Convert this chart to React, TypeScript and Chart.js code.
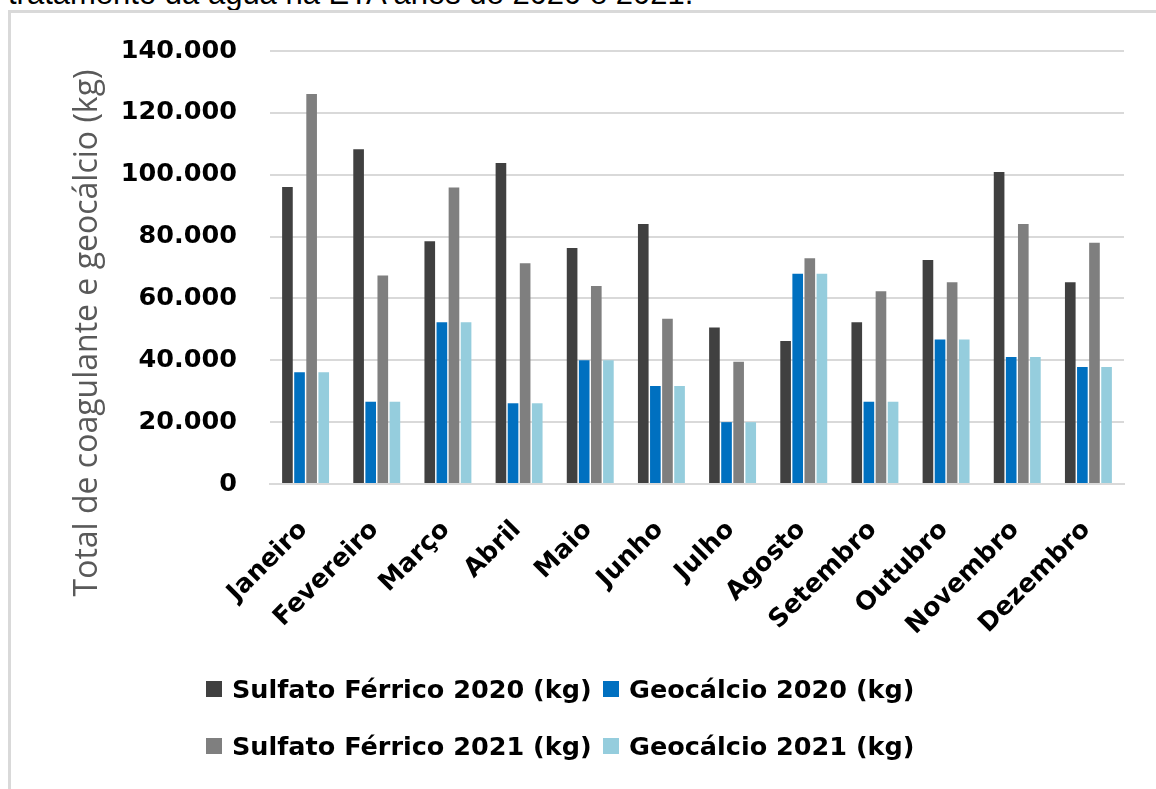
import React, { useEffect, useRef } from "react";
import { Chart, registerables } from "chart.js";

Chart.register(...registerables);

// Months on the category axis
const months = [
  "Janeiro", "Fevereiro", "Março", "Abril", "Maio", "Junho",
  "Julho", "Agosto", "Setembro", "Outubro", "Novembro", "Dezembro",
];

// Monthly consumption (kg)
const sulfato2020 = [96000, 108200, 78500, 103800, 76300, 84100, 50600, 46200, 52300, 72400, 100900, 65200];
const geocalcio2020 = [36100, 26600, 52300, 26100, 40000, 31700, 20000, 68000, 26600, 46700, 41100, 37800];
const sulfato2021 = [126100, 67400, 95900, 71400, 64000, 53400, 39500, 73000, 62300, 65200, 84100, 78000];
const geocalcio2021 = [36100, 26600, 52300, 26100, 40000, 31700, 20000, 68000, 26600, 46700, 41100, 37800];

const seriesLabels = [
  "Sulfato Férrico 2020 (kg)",
  "Geocálcio 2020 (kg)",
  "Sulfato Férrico 2021 (kg)",
  "Geocálcio 2021 (kg)",
];
const seriesColors = ["#404040", "#0070C0", "#7F7F7F", "#95CDDD"];

const yTitle = "Total de coagulante e geocálcio (kg)";
const yMax = 140000;
const yStep = 20000;
const captionText = "tratamento da água na ETA anos de 2020 e 2021.";

const fmtThousands = (v: number) =>
  String(Math.round(v)).replace(/\B(?=(\d{3})+(?!\d))/g, ".");

const boldFont = { family: "'DejaVu Sans'", weight: "bold" as const, size: 25.5 };

// Draws the rotated y-axis title beside the tick labels
const yTitlePlugin = {
  id: "yTitleSide",
  afterDraw(chart: any) {
    const ctx = chart.ctx as CanvasRenderingContext2D;
    ctx.save();
    ctx.translate(97, 333);
    ctx.rotate(-Math.PI / 2);
    ctx.font = "32px 'Open Sans'";
    ctx.fillStyle = "#595959";
    ctx.textAlign = "center";
    ctx.textBaseline = "alphabetic";
    ctx.fillText(yTitle, 0, 0);
    ctx.restore();
  },
};

export default function App() {
  const canvasRef = useRef<HTMLCanvasElement | null>(null);

  useEffect(() => {
    if (!canvasRef.current) return;
    const seriesData = [sulfato2020, geocalcio2020, sulfato2021, geocalcio2021];
    const chart = new Chart(canvasRef.current, {
      type: "bar",
      data: {
        labels: months,
        datasets: seriesData.map((d, i) => ({
          label: seriesLabels[i],
          data: d,
          backgroundColor: seriesColors[i],
          borderWidth: 0,
          categoryPercentage: 0.68,
          barPercentage: 0.88,
        })),
      },
      options: {
        responsive: false,
        animation: false,
        devicePixelRatio: 1,
        layout: { padding: { left: 0, top: 51, right: 32, bottom: 0 } },
        plugins: {
          legend: { display: false },
          tooltip: { enabled: false },
          title: { display: false },
        },
        scales: {
          x: {
            grid: { display: false },
            border: { display: true, color: "#D9D9D9", width: 2 },
            ticks: {
              autoSkip: false,
              minRotation: 45,
              maxRotation: 45,
              padding: 23,
              labelOffset: -2,
              color: "#000000",
              font: boldFont,
            },
            afterFit: (s: any) => {
              s.height = 305;
            },
          },
          y: {
            min: 0,
            max: yMax,
            ticks: {
              stepSize: yStep,
              padding: 33,
              color: "#000000",
              font: boldFont,
              callback: (v: any) => fmtThousands(Number(v)),
            },
            grid: { color: "#D9D9D9", lineWidth: 2, drawTicks: false },
            border: { display: false },
            afterFit: (s: any) => {
              s.width = 270;
            },
          },
        },
      },
      plugins: [yTitlePlugin],
    });
    return () => chart.destroy();
  }, []);

  const legendCols = [206, 603];
  const legendRows = [689, 746];

  return (
    <div
      style={{
        position: "absolute",
        left: 0,
        top: 0,
        width: 1156,
        height: 789,
        overflow: "hidden",
        background: "#ffffff",
      }}
    >
      <div
        style={{
          position: "absolute",
          left: 8,
          top: -22,
          fontFamily: "'Liberation Sans', Arial, sans-serif",
          fontSize: 31,
          lineHeight: "31px",
          whiteSpace: "nowrap",
          color: "#000",
        }}
      >
        {captionText}
      </div>
      <div
        style={{
          position: "absolute",
          left: 8,
          top: 10,
          width: 1300,
          height: 900,
          borderTop: "3px solid #D9D9D9",
          borderLeft: "3px solid #D9D9D9",
        }}
      />
      <canvas
        ref={canvasRef}
        width={1156}
        height={789}
        style={{ position: "absolute", left: 0, top: 0, width: 1156, height: 789 }}
      />
      {seriesLabels.map((label, i) => (
        <div
          key={label}
          style={{
            position: "absolute",
            left: legendCols[i % 2],
            top: legendRows[Math.floor(i / 2)] - 15,
            height: 30,
            display: "flex",
            alignItems: "center",
            whiteSpace: "nowrap",
            fontFamily: "'DejaVu Sans'",
            fontWeight: "bold",
            fontSize: 25.5,
            color: "#000",
          }}
        >
          <span
            style={{
              display: "inline-block",
              width: 16,
              height: 16,
              background: seriesColors[i],
              marginRight: 10,
            }}
          />
          <span>{label}</span>
        </div>
      ))}
    </div>
  );
}
